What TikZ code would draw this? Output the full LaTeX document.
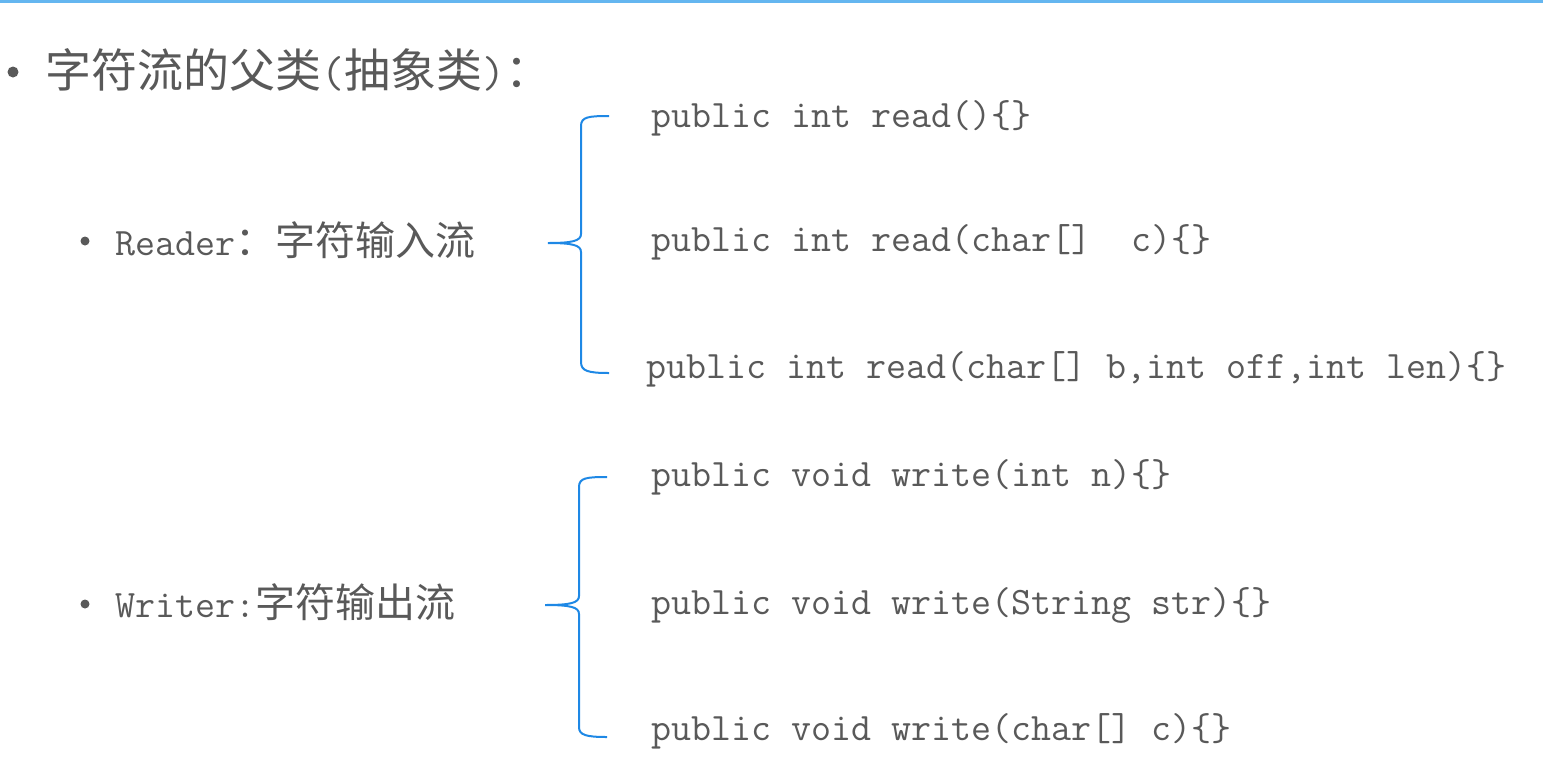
\documentclass[tikz,border=0pt]{standalone}
\usepackage{fontspec}
\setmonofont{Latin Modern Mono}
\newfontfamily\cjk{Noto Sans CJK SC}
\definecolor{txtgray}{RGB}{89,89,89}
\definecolor{braceblue}{RGB}{30,136,229}
\definecolor{rulelight}{RGB}{100,182,240}
\newcommand{\codesz}{\ttfamily\fontsize{19.42}{22}\selectfont}
\newcommand{\cjksz}{\cjk\fontsize{20}{24}\selectfont}
\newcommand{\titlecjk}{\cjk\fontsize{23}{27}\selectfont}
\newcommand{\titlett}{\ttfamily\fontsize{22.3}{26}\selectfont}
\tikzset{
  label/.style={anchor=west, inner sep=0pt, text=txtgray},
  brace/.style={draw=braceblue, line width=1pt},
  dot/.style={circle, fill=txtgray, inner sep=0pt}
}
\begin{document}
\begin{tikzpicture}[x=0.5pt, y=-0.5pt]
  \useasboundingbox (0,0) rectangle (1543,783);
  \draw[rulelight, line width=1.5pt] (0,1) -- (1543,1);

  \node[dot, minimum size=5.5pt] (topdot) at (13,72) {};
  \node[label] (title) at (45,70) {{\titlecjk 字符流的父类}{\titlett(}{\titlecjk 抽象类}{\titlett)}{\titlecjk ：}};

  \node[dot, minimum size=4.5pt] (readerdot) at (85,241) {};
  \node[label] (reader) at (115,240) {{\codesz Reader}{\cjksz ：字符输入流}};
  \node[dot, minimum size=4.5pt] (writerdot) at (85,604) {};
  \node[label] (writer) at (115,602) {{\codesz Writer:}{\cjksz 字符输出流}};

  \node[label] (readA) at (651,118) {\codesz public int read()\{\}};
  \node[label] (readB) at (651,242) {\codesz public int read(char[]~ c)\{\}};
  \node[label] (readC) at (646,369) {\codesz public int read(char[] b,int off,int len)\{\}};
  \node[label] (writeA) at (651,477) {\codesz public void write(int n)\{\}};
  \node[label] (writeB) at (651,605) {\codesz public void write(String str)\{\}};
  \node[label] (writeC) at (651,731) {\codesz public void write(char[] c)\{\}};

  \draw[brace] (609,116) .. controls (588,116) and (581,117) .. (581,126) -- (581,234)
    .. controls (581,241) and (572,243) .. (548,243)
    .. controls (572,243) and (581,245) .. (581,252) -- (581,362)
    .. controls (581,371) and (588,373) .. (609,373);
  \draw[brace] (607,477) .. controls (586,477) and (579,478) .. (579,487) -- (579,596)
    .. controls (579,603) and (570,605) .. (545,605)
    .. controls (570,605) and (579,607) .. (579,614) -- (579,727)
    .. controls (579,735) and (586,737) .. (607,737);
\end{tikzpicture}
\end{document}
